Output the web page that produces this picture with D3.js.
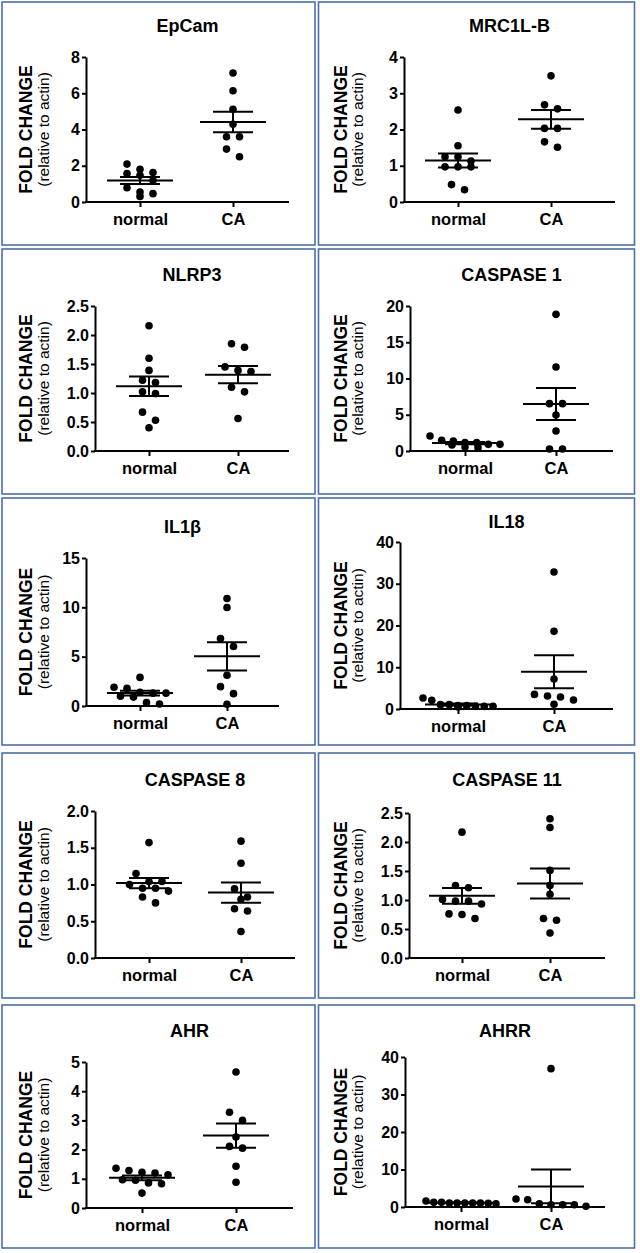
<!DOCTYPE html>
<html>
<head>
<meta charset="utf-8">
<script src="https://cdn.jsdelivr.net/npm/d3@7"></script>
<style>
  html, body { margin: 0; padding: 0; background: #fff; }
  svg { display: block; font-family: "Liberation Sans", Arial, sans-serif; }
</style>
</head>
<body>
<svg id="chart" width="640" height="1253"></svg>
<script>
// ---------------- DATA ----------------
const categories = ["normal", "CA"];
const titles = ["EpCam", "MRC1L-B", "NLRP3", "CASPASE 1", "IL1\u03B2", "IL18", "CASPASE 8", "CASPASE 11", "AHR", "AHRR"];
const yMax = [8, 4, 2.5, 20, 15, 40, 2.0, 2.5, 5, 40];
const yTicks = [
  [0, 2, 4, 6, 8],
  [0, 1, 2, 3, 4],
  [0, 0.5, 1.0, 1.5, 2.0, 2.5],
  [0, 5, 10, 15, 20],
  [0, 5, 10, 15],
  [0, 10, 20, 30, 40],
  [0, 0.5, 1.0, 1.5, 2.0],
  [0, 0.5, 1.0, 1.5, 2.0, 2.5],
  [0, 1, 2, 3, 4, 5],
  [0, 10, 20, 30, 40]
];
const tickDecimals = [0, 0, 1, 0, 0, 0, 1, 1, 0, 0];
const normalValues = [
  [2.09, 1.81, 1.63, 1.57, 1.48, 1.20, 0.79, 0.55, 0.46, 0.31],
  [2.54, 1.55, 1.25, 1.13, 1.25, 0.97, 0.97, 0.97, 0.48, 0.34],
  [2.16, 1.60, 1.39, 1.22, 1.18, 1.02, 0.99, 0.67, 0.53, 0.40],
  [2.07, 1.38, 0.92, 1.15, 1.47, 1.15, 0.55, 0.92, 0.83, 0.46],
  [2.90, 1.90, 1.80, 1.40, 1.30, 1.30, 1.00, 0.90, 0.35, 0.20],
  [0.64, 2.07, 0.80, 1.04, 0.48, 1.04, 0.80, 2.63, 0.64, 0.64],
  [1.57, 1.15, 1.04, 1.04, 1.00, 0.95, 0.95, 0.91, 0.83, 0.75],
  [2.17, 1.21, 1.25, 1.01, 0.98, 0.93, 0.98, 0.68, 0.76, 0.75],
  [1.14, 1.20, 1.28, 1.22, 1.36, 0.86, 0.97, 0.83, 0.95, 0.51],
  [0.97, 1.59, 1.24, 1.24, 0.88, 1.06, 1.06, 1.06, 1.06, 1.06]
];
const caValues = [
  [7.12, 6.14, 5.12, 4.29, 3.60, 3.60, 2.92, 2.50],
  [3.48, 2.57, 2.68, 2.03, 2.03, 1.51, 1.66],
  [1.85, 1.79, 1.45, 1.37, 1.39, 1.02, 1.10, 0.56],
  [18.85, 11.59, 6.53, 6.53, 4.97, 2.76, 0.28, 0.28],
  [10.9, 9.99, 6.84, 6.03, 3.12, 1.96, 1.25, 0.17],
  [32.8, 18.6, 7.17, 2.87, 3.50, 2.15, 3.10, 1.12],
  [1.59, 1.29, 0.94, 0.83, 0.80, 0.67, 0.64, 0.36],
  [2.40, 2.25, 1.51, 1.25, 1.10, 0.68, 0.65, 0.43],
  [4.66, 3.28, 3.00, 2.43, 2.05, 2.11, 1.43, 0.88],
  [36.9, 2.12, 1.95, 0.62, 0.62, 0.18, 0.88, 0.62]
];
const yLabelMain = "FOLD CHANGE";
const yLabelSub = "(relative to actin)";

// ---------------- LAYOUT (pixels) ----------------
const layout = [
  { box: [2, 2, 313, 243],     ax: 86,  top: 57,   bot: 202,  end: 289, gx: [140, 233], ty: 32 },
  { box: [318.5, 2, 316, 243], ax: 404, top: 57,   bot: 202,  end: 615, gx: [458, 551], ty: 32 },
  { box: [2, 249, 313, 245],   ax: 95,  top: 306,  bot: 451,  end: 289, gx: [149, 238], ty: 281 },
  { box: [318.5, 249, 316, 245], ax: 410, top: 306, bot: 451, end: 613, gx: [465, 556], ty: 281 },
  { box: [2, 498, 313, 247],   ax: 86,  top: 558,  bot: 706,  end: 279, gx: [140, 227], ty: 533 },
  { box: [318.5, 498, 316, 247], ax: 400, top: 542, bot: 709, end: 613, gx: [458, 554], ty: 528 },
  { box: [2, 753, 313, 245],   ax: 95,  top: 811,  bot: 958,  end: 295, gx: [149, 241], ty: 786 },
  { box: [318.5, 753, 316, 245], ax: 409, top: 813, bot: 958, end: 605, gx: [462, 550], ty: 786 },
  { box: [2, 1005, 313, 243],  ax: 86,  top: 1062, bot: 1208, end: 293, gx: [142, 236], ty: 1037 },
  { box: [318.5, 1005, 316, 243], ax: 405, top: 1057, bot: 1207, end: 605, gx: [461, 551], ty: 1037 }
];

const borderColor = "#4b6ea4";
const dotR = 3.8;
const meanHalf = 33, capHalf = 20;

// beeswarm-like row layout (Prism style)
function swarm(vals, y, s0, D, maxHalf) {
  const pts = vals.map((v, i) => ({ v, py: y(v), i })).sort((a, b) => b.v - a.v);
  const rows = []; let cur = null;
  for (const p of pts) {
    if (cur && Math.abs(cur[0].py - p.py) < D) cur.push(p);
    else { cur = [p]; rows.push(cur); }
  }
  rows.forEach(r => {
    let s = s0;
    if ((r.length - 1) * s / 2 > maxHalf) s = 2 * maxHalf / (r.length - 1);
    r.forEach((p, k) => p.dx = (k - (r.length - 1) / 2) * s);
  });
  return pts;
}

const svg = d3.select("#chart");
const FONT = "Liberation Sans, Arial, sans-serif";

titles.forEach((title, i) => {
  const L = layout[i];
  const g = svg.append("g");
  const [bx, by, bw, bh] = L.box;

  g.append("rect").attr("x", bx).attr("y", by).attr("width", bw).attr("height", bh)
    .attr("fill", "#fff").attr("stroke", borderColor).attr("stroke-width", 1.6);

  const y = d3.scaleLinear().domain([0, yMax[i]]).range([L.bot, L.top]);
  const x = d3.scalePoint().domain(categories).range(L.gx);

  // title
  g.append("text").attr("x", (L.ax + L.end) / 2).attr("y", L.ty)
    .attr("text-anchor", "middle").attr("font-size", 18).attr("font-weight", "bold")
    .text(title);

  // y axis
  const fmt = d3.format("." + tickDecimals[i] + "f");
  const yAxis = g.append("g").attr("transform", `translate(${L.ax},0)`)
    .call(d3.axisLeft(y).tickValues(yTicks[i]).tickFormat(fmt).tickSize(4).tickSizeOuter(0).tickPadding(2));
  yAxis.select(".domain").attr("stroke-width", 2);
  yAxis.selectAll(".tick line").attr("stroke-width", 2);
  yAxis.selectAll("text").attr("font-size", 16).attr("font-weight", "bold")
    .attr("font-family", FONT).attr("fill", "#000");

  // x axis
  g.append("line").attr("x1", L.ax - 1).attr("x2", L.end).attr("y1", L.bot).attr("y2", L.bot)
    .attr("stroke", "#000").attr("stroke-width", 2);
  const xAxis = g.append("g").attr("transform", `translate(0,${L.bot})`)
    .call(d3.axisBottom(x).tickSize(5).tickSizeOuter(0).tickPadding(6));
  xAxis.select(".domain").remove();
  xAxis.selectAll(".tick line").attr("stroke-width", 2);
  xAxis.selectAll("text").attr("font-size", 16.5).attr("font-weight", "bold")
    .attr("font-family", FONT).attr("fill", "#000");

  // y labels
  const midY = (L.top + L.bot) / 2;
  const lx = bx + (i % 2 === 0 ? 24 : 22);
  g.append("text").attr("transform", `translate(${lx},${midY}) rotate(-90)`)
    .attr("text-anchor", "middle").attr("dy", "0.36em")
    .attr("font-size", 17.5).attr("font-weight", "bold").text(yLabelMain);
  g.append("text").attr("transform", `translate(${lx + 17},${midY}) rotate(-90)`)
    .attr("text-anchor", "middle").attr("dy", "0.36em")
    .attr("font-size", 15.5).text(yLabelSub);

  // groups
  [normalValues[i], caValues[i]].forEach((vals, k) => {
    const cx = x(categories[k]);
    const pts = swarm(vals, y, 13, 8.5, 35);
    g.append("g").selectAll("circle").data(pts).join("circle")
      .attr("cx", d => cx + d.dx).attr("cy", d => d.py).attr("r", dotR).attr("fill", "#000");

    const m = d3.mean(vals);
    const sem = d3.deviation(vals) / Math.sqrt(vals.length);
    const eg = g.append("g").attr("stroke", "#000").attr("stroke-width", 2);
    eg.append("line").attr("x1", cx - meanHalf).attr("x2", cx + meanHalf).attr("y1", y(m)).attr("y2", y(m));
    eg.append("line").attr("x1", cx).attr("x2", cx).attr("y1", y(m + sem)).attr("y2", y(m - sem));
    eg.append("line").attr("x1", cx - capHalf).attr("x2", cx + capHalf).attr("y1", y(m + sem)).attr("y2", y(m + sem));
    eg.append("line").attr("x1", cx - capHalf).attr("x2", cx + capHalf).attr("y1", y(m - sem)).attr("y2", y(m - sem));
  });
});
</script>
</body>
</html>
